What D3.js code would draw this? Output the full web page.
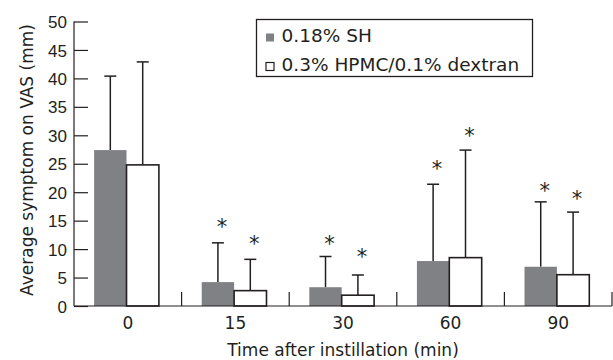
<!DOCTYPE html>
<html>
<head>
<meta charset="utf-8">
<script src="https://cdn.jsdelivr.net/npm/d3@7"></script>
<style>
  html, body { margin: 0; padding: 0; background: #fff; }
  svg { display: block; font-family: 'DejaVu Sans', sans-serif; }
</style>
</head>
<body>
<svg id="chart"></svg>
<script>
// data begin ----------------------------------
const times = ['0', '15', '30', '60', '90'];
const seriesNames = ['0.18% SH', '0.3% HPMC/0.1% dextran'];
const shMean = [27.4, 4.2, 3.3, 7.9, 6.9];
const shSd = [13.0, 6.9, 5.4, 13.5, 11.4];
const hpmcMean = [24.8, 2.7, 1.9, 8.5, 5.5];
const hpmcSd = [18.1, 5.5, 3.55, 18.9, 11.0];
// height (mm) where the significance asterisk sits, null = none
const shStar = [null, 14.8, 11.7, 25.0, 21.0];
const hpmcStar = [null, 11.7, 9.4, 30.8, 19.7];
const yTicks = [0, 5, 10, 15, 20, 25, 30, 35, 40, 45, 50];
// data end ----------------------------------

const fullWidth = 613, fullHeight = 360;
const margin = { top: 21.5, right: 1, bottom: 54, left: 74 };
const width = fullWidth - margin.left - margin.right;
const height = fullHeight - margin.top - margin.bottom;
const ink = '#231f20';
const fills = ['#808184', '#ffffff'];
const starSize = 21;

const svg = d3.select('#chart').attr('width', fullWidth).attr('height', fullHeight);
const g = svg.append('g').attr('transform', 'translate(' + margin.left + ',' + margin.top + ')');

const x0 = d3.scaleBand().domain(times).range([0, width]);
const x1 = d3.scaleBand().domain(seriesNames).range([x0.bandwidth() * 0.187, x0.bandwidth() * 0.789]);
const y = d3.scaleLinear().domain([0, 50]).range([height, 0]);

const rows = times.map((t, i) => ({
  time: t,
  values: [
    { key: seriesNames[0], mean: shMean[i], sd: shSd[i], star: shStar[i] },
    { key: seriesNames[1], mean: hpmcMean[i], sd: hpmcSd[i], star: hpmcStar[i] }
  ]
}));

const groups = g.selectAll('g.grp').data(rows).enter().append('g')
  .attr('class', 'grp')
  .attr('transform', d => 'translate(' + x0(d.time) + ',0)');

// error bars (upper only)
const err = groups.selectAll('g.err').data(d => d.values).enter().append('g').attr('class', 'err');
err.append('line')
  .attr('x1', d => x1(d.key) + x1.bandwidth() / 2)
  .attr('x2', d => x1(d.key) + x1.bandwidth() / 2)
  .attr('y1', d => y(d.mean))
  .attr('y2', d => y(d.mean + d.sd))
  .attr('stroke', ink).attr('stroke-width', 1.5);
err.append('line')
  .attr('x1', d => x1(d.key) + x1.bandwidth() / 2 - 6)
  .attr('x2', d => x1(d.key) + x1.bandwidth() / 2 + 6)
  .attr('y1', d => y(d.mean + d.sd))
  .attr('y2', d => y(d.mean + d.sd))
  .attr('stroke', ink).attr('stroke-width', 1.5);

// bars
groups.selectAll('rect').data(d => d.values).enter().append('rect')
  .attr('x', d => x1(d.key))
  .attr('y', d => y(d.mean))
  .attr('width', x1.bandwidth())
  .attr('height', d => height - y(d.mean))
  .attr('fill', (d, i) => fills[i])
  .attr('stroke', (d, i) => i === 0 ? 'none' : ink)
  .attr('stroke-width', 1.6);

// asterisks
groups.selectAll('text.star').data(d => d.values.filter(v => v.star !== null)).enter().append('text')
  .attr('class', 'star')
  .attr('x', d => x1(d.key) + x1.bandwidth() / 2 + 4)
  .attr('y', d => y(d.star) + starSize * 0.56)
  .attr('text-anchor', 'middle')
  .attr('font-size', starSize)
  .attr('fill', ink)
  .text('*');

// y axis with inward ticks
const yAxis = d3.axisRight(y).tickValues(yTicks).tickSize(14).tickFormat(d3.format('d'));
const ya = g.append('g').call(yAxis);
ya.select('.domain').remove();
ya.selectAll('.tick line').attr('stroke', ink).attr('stroke-width', 1.2);
ya.selectAll('.tick text').attr('x', -7).attr('text-anchor', 'end')
  .attr('font-size', 17).attr('fill', ink).attr('dy', '0.36em');
g.append('line').attr('x1', 0).attr('x2', 0).attr('y1', 0).attr('y2', height)
  .attr('stroke', ink).attr('stroke-width', 1.2);

// x axis: separators between groups, labels centred
g.append('line').attr('x1', 0).attr('x2', width).attr('y1', height).attr('y2', height)
  .attr('stroke', ink).attr('stroke-width', 1.2);
g.selectAll('line.sep').data(times).enter().append('line')
  .attr('class', 'sep')
  .attr('x1', d => x0(d) + x0.bandwidth())
  .attr('x2', d => x0(d) + x0.bandwidth())
  .attr('y1', height - 14).attr('y2', height)
  .attr('stroke', ink).attr('stroke-width', 1.2);
g.selectAll('text.xlab').data(times).enter().append('text')
  .attr('class', 'xlab')
  .attr('x', d => x0(d) + x0.bandwidth() / 2)
  .attr('y', height + 22.5)
  .attr('text-anchor', 'middle')
  .attr('font-size', 17).attr('fill', ink)
  .text(d => d);

// axis titles
g.append('text')
  .attr('x', width / 2).attr('y', height + 49.5)
  .attr('text-anchor', 'middle').attr('font-size', 17).attr('fill', ink)
  .text('Time after instillation (min)');
svg.append('text')
  .attr('transform', 'translate(33,' + 160 + ') rotate(-90)')
  .attr('text-anchor', 'middle').attr('font-size', 17).attr('fill', ink)
  .text('Average symptom on VAS (mm)');

// legend
const legend = svg.append('g').attr('transform', 'translate(256.5,19.5)');
legend.append('rect').attr('width', 276).attr('height', 57)
  .attr('fill', '#fff').attr('stroke', ink).attr('stroke-width', 1.3);
const item = legend.selectAll('g.item').data(seriesNames).enter().append('g')
  .attr('class', 'item')
  .attr('transform', (d, i) => 'translate(0,' + (22.5 + i * 29) + ')');
item.append('rect')
  .attr('x', 9.5).attr('y', -8.5).attr('width', 8).attr('height', 8)
  .attr('fill', (d, i) => fills[i])
  .attr('stroke', (d, i) => i === 0 ? 'none' : ink).attr('stroke-width', 1.2);
item.append('text')
  .attr('x', 25).attr('y', 0)
  .attr('font-size', 18.5).attr('fill', ink)
  .text(d => d);
</script>
</body>
</html>
